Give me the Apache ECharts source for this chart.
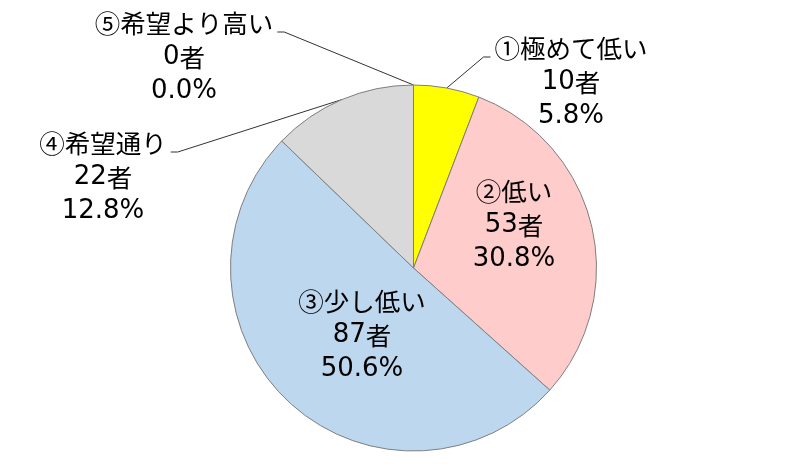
<!DOCTYPE html>
<html>
<head>
<meta charset="utf-8">
<script src="https://cdn.jsdelivr.net/npm/echarts@6/dist/echarts.min.js"></script>
<style>
html,body{margin:0;padding:0;background:#fff;}
#chart{width:798px;height:473px;}
</style>
</head>
<body>
<div id="chart"></div>
<script>
// ---- data ----
const categories = ['①極めて低い', '②低い', '③少し低い', '④希望通り', '⑤希望より高い'];
const counts = [10, 53, 87, 22, 0];
const unitLabel = '者';

// ---- styles / layout ----
const sliceColors = ['#FFFF00', '#FFCCCC', '#BDD7EE', '#D9D9D9', '#F4B183'];
const insideItems = [false, true, true, false, false];
const labelCenters = [[571, 82], [514, 225], [362, 335], [103, 177], [184, 57]];
const leaderSide = ['right', null, null, 'left', 'left'];
const LINE_H = 34;
const CJK_FONT = '"Noto Sans CJK JP", sans-serif';
const NUM_FONT = '"DejaVu Sans", "Noto Sans CJK JP", sans-serif';

const total = counts.reduce((a, b) => a + b, 0);
const pieData = categories.map((name, i) => ({
  name: name,
  value: counts[i],
  itemStyle: { color: sliceColors[i] },
  label: { position: insideItems[i] ? 'inside' : 'outside' },
  labelLine: { show: !insideItems[i] }
}));

const baseText = { color: '#000', fontSize: 26, lineHeight: LINE_H };

const chart = echarts.init(document.getElementById('chart'), null, { renderer: 'canvas' });
chart.setOption({
  animation: false,
  backgroundColor: '#ffffff',
  series: [{
    type: 'pie',
    center: [413.5, 268],
    radius: 183,
    startAngle: 90,
    clockwise: true,
    avoidLabelOverlap: false,
    data: pieData,
    itemStyle: { borderColor: '#7f7f7f', borderWidth: 1 },
    emphasis: { disabled: true },
    label: {
      show: true,
      color: '#000',
      fontFamily: CJK_FONT,
      fontSize: 26,
      lineHeight: LINE_H,
      align: 'center',
      formatter: function (p) {
        const pct = total ? (p.value / total * 100) : 0;
        return '{n|' + p.name + '}\n{d|' + p.value + '}{n|' + unitLabel + '}\n{d|' + pct.toFixed(1) + '%}';
      },
      rich: {
        n: Object.assign({ fontFamily: CJK_FONT, fontSize: 25.5 }, { color: '#000', lineHeight: LINE_H }),
        d: Object.assign({ fontFamily: NUM_FONT }, baseText)
      }
    },
    labelLine: {
      show: true,
      length: 20,
      length2: 10,
      lineStyle: { color: '#333', width: 1 }
    },
    labelLayout: function (p) {
      const i = p.dataIndex;
      const c = labelCenters[i];
      const res = { x: c[0], y: c[1], align: 'center', verticalAlign: 'middle' };
      const pts = p.labelLinePoints;
      const side = leaderSide[i];
      if (side && pts && pts.length) {
        const w = p.labelRect.width;
        const yEnd = c[1] - LINE_H + 9;
        let xEnd, xElbow;
        if (side === 'left') { xEnd = c[0] + w / 2 + 4; xElbow = xEnd + 7; }
        else { xEnd = c[0] - w / 2 - 4; xElbow = xEnd - 7; }
        res.labelLinePoints = [pts[0], [xElbow, yEnd], [xEnd, yEnd]];
      }
      return res;
    }
  }]
});
</script>
</body>
</html>
